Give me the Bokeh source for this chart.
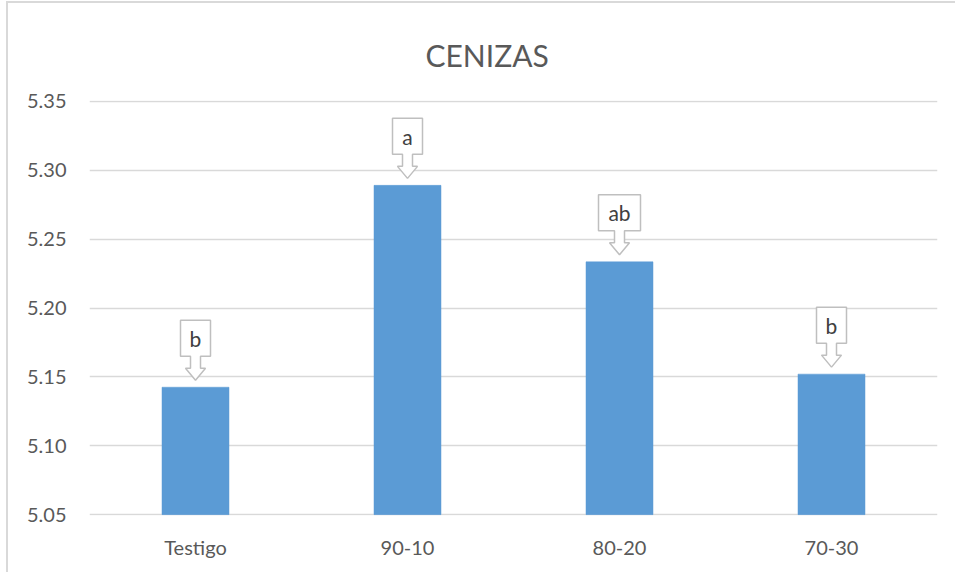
from bokeh.plotting import figure
from bokeh.models import ColumnDataSource, FixedTicker, Range1d, LabelSet
from bokeh.embed import file_html
from bokeh.resources import INLINE
from bokeh.core.properties import value

# ---- data ----
categories = ["Testigo", "90-10", "80-20", "70-30"]
values = [5.1425, 5.289, 5.2335, 5.152]
letters = ["b", "a", "ab", "b"]
y_ticks = [5.05, 5.10, 5.15, 5.20, 5.25, 5.30, 5.35]
title_text = "CENIZAS"

# ---- layout ----
W, H = 949, 571
FL, FT, FB = 81, 97, 59
frame_w, frame_h = 848, 415
FR = W - FL - frame_w
pad = 0.0006
y0, y1 = 5.05 - pad, 5.35 + pad
kx = len(categories) / frame_w          # data units per px (x)
ky = (y1 - y0) / frame_h                # data units per px (y)

TXT = "#595959"
FONT = "Lato"

p = figure(width=W, height=H, output_backend="svg", toolbar_location=None,
           x_range=Range1d(-0.5, len(categories) - 0.5), y_range=Range1d(y0, y1),
           min_border_left=FL, min_border_right=FR, min_border_top=FT, min_border_bottom=FB,
           styles={"margin-left": "6px", "margin-top": "1px",
                   "border-left": "2px solid #d9d9d9", "border-top": "2px solid #d9d9d9"})
p.outline_line_color = None
p.background_fill_color = "white"
p.border_fill_color = "white"

p.title.text = title_text
p.title.align = "left"
p.title.vertical_align = "top"
p.title.text_font = FONT
p.title.text_font_style = "normal"
p.title.text_font_size = "30px"
p.title.text_color = TXT
p.title.standoff = 52
p.title.offset = 336

xs = list(range(len(categories)))
src = ColumnDataSource(dict(x=xs, top=values, cat=categories))
p.vbar(x="x", top="top", bottom=5.05, width=0.316, source=src,
       fill_color="#5b9bd5", line_color="#5b9bd5", line_width=0.5)

# axes
p.xaxis.ticker = FixedTicker(ticks=xs)
p.xaxis.major_label_overrides = {i: c for i, c in enumerate(categories)}
p.yaxis.ticker = FixedTicker(ticks=y_ticks)
p.yaxis.major_label_overrides = {t: f"{t:.2f}" for t in y_ticks}
for ax in (p.xaxis[0], p.yaxis[0]):
    ax.axis_line_color = None
    ax.major_tick_line_color = None
    ax.minor_tick_line_color = None
    ax.major_label_text_font = FONT
    ax.major_label_text_font_size = "20px"
    ax.major_label_text_color = TXT
p.yaxis.major_label_standoff = 17
p.xaxis.major_label_standoff = 13
p.xgrid.grid_line_color = None
p.ygrid.ticker = FixedTicker(ticks=y_ticks)
p.ygrid.grid_line_color = "#d9d9d9"
p.ygrid.grid_line_width = 1.5
p.ygrid.level = "underlay"

# callouts
gap, shaft_h, head_h, box_h = 7, 12, 12, 36
shaft_hw, head_hw = 5, 10
pxs, pys, tx, ty = [], [], [], []
for i, (v, lab) in enumerate(zip(values, letters)):
    bw = 42 if len(lab) > 1 else 30
    hw = bw / 2
    pts = [(0, 0), (-head_hw, head_h), (-shaft_hw, head_h), (-shaft_hw, head_h + shaft_h),
           (-hw, head_h + shaft_h), (-hw, head_h + shaft_h + box_h),
           (hw, head_h + shaft_h + box_h), (hw, head_h + shaft_h),
           (shaft_hw, head_h + shaft_h), (shaft_hw, head_h), (head_hw, head_h)]
    base = v + gap * ky
    pxs.append([i + a * kx for a, b in pts])
    pys.append([base + b * ky for a, b in pts])
    tx.append(i)
    ty.append(base + (head_h + shaft_h + box_h / 2) * ky)
p.patches(pxs, pys, fill_color="white", line_color="#bfbfbf", line_width=1.5)
lsrc = ColumnDataSource(dict(x=tx, y=ty, t=letters))
p.add_layout(LabelSet(x="x", y="y", text="t", source=lsrc, text_align="center",
                      text_baseline="middle", text_font=value(FONT),
                      text_font_size="21px", text_color="#404040"))

open("out.html", "w").write(file_html(p, INLINE))
